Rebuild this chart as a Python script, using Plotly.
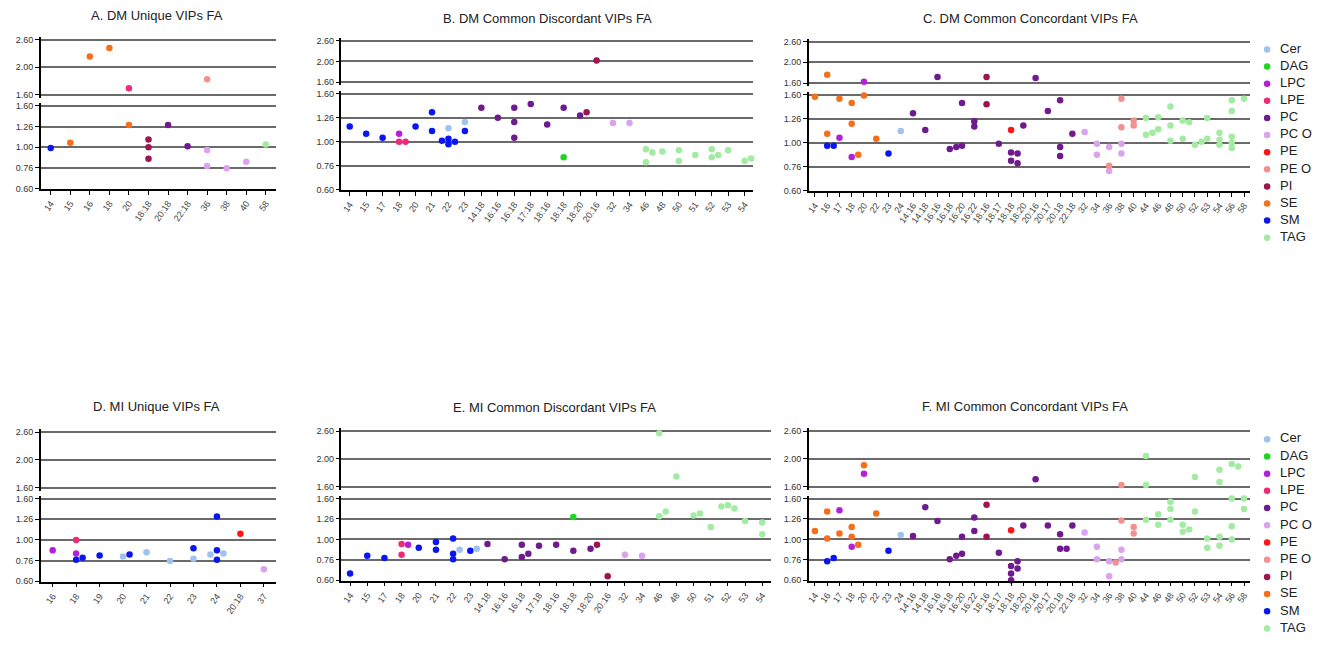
import math
import plotly.graph_objects as go

W, H = 1342, 646

CLASSES = ["Cer", "DAG", "LPC", "LPE", "PC", "PC O", "PE", "PE O", "PI", "SE", "SM", "TAG"]
COLORS = {
    "Cer": "#9ec3ef", "DAG": "#1fd61f", "LPC": "#b41fd8", "LPE": "#ee2a7b",
    "PC": "#6f1a8e", "PC O": "#dba2ee", "PE": "#ff1515", "PE O": "#f39191",
    "PI": "#9c1452", "SE": "#f56e1a", "SM": "#0a16f0", "TAG": "#a3eaa3",
}

# ---------------- A. DM Unique ----------------
A_categories = ["14", "15", "16", "18", "20", "18:18", "20:18", "22:18", "36", "38", "40", "58"]
A_cat = ["14", "15", "16", "18", "20", "20", "18:18", "18:18", "18:18", "20:18", "22:18",
         "36", "36", "36", "38", "40", "58"]
A_class = ["SM", "SE", "SE", "SE", "LPE", "SE", "PI", "PI", "PI", "PC", "PC",
           "PE O", "PC O", "PC O", "PC O", "PC O", "TAG"]
A_fa = [0.99, 1.05, 2.19, 2.35, 1.68, 1.28, 1.09, 1.00, 0.88, 1.28, 1.01,
        1.81, 0.97, 0.81, 0.79, 0.85, 1.03]

# ---------------- B. DM Common Discordant ----------------
B_categories = ["14", "15", "17", "18", "20", "21", "22", "23", "14:18", "16:16", "16:18", "17:18",
                "18:16", "18:18", "18:20", "20:16", "32", "34", "46", "48", "50", "51", "52", "53", "54"]
B_cat = ["14", "15", "17", "18", "18", "18", "20", "21", "21", "22", "22", "22", "22", "22",
         "23", "23", "14:18", "16:16", "16:18", "16:18", "16:18", "17:18", "18:16", "18:18", "18:18",
         "18:20", "18:20", "20:16", "32", "34", "46", "46", "46", "48", "50", "50", "51",
         "52", "52", "52", "53", "54", "54"]
B_class = ["SM", "SM", "SM", "LPC", "LPE", "LPE", "SM", "SM", "SM", "SM", "SM", "SM", "SM", "Cer",
           "SM", "Cer", "PC", "PC", "PC", "PC", "PC", "PC", "PC", "PC", "DAG",
           "PC", "PI", "PI", "PC O", "PC O", "TAG", "TAG", "TAG", "TAG", "TAG", "TAG", "TAG",
           "TAG", "TAG", "TAG", "TAG", "TAG", "TAG"]
B_fa = [1.16, 1.08, 1.04, 1.08, 1.00, 1.00, 1.16, 1.33, 1.11, 1.03, 1.00, 0.975, 1.01, 1.14,
        1.11, 1.21, 1.39, 1.26, 1.39, 1.21, 1.04, 1.44, 1.18, 1.39, 0.86,
        1.29, 1.33, 2.02, 1.20, 1.20, 0.93, 0.90, 0.82, 0.91, 0.92, 0.83, 0.88,
        0.86, 0.93, 0.88, 0.92, 0.83, 0.85]

# ---------------- C. DM Common Concordant ----------------
C_categories = ["14", "16", "17", "18", "20", "22", "23", "24", "14:16", "14:18", "16:16", "16:18",
                "16:20", "16:22", "18:16", "18:17", "18:18", "18:20", "20:16", "20:17", "20:18", "22:18",
                "32", "34", "36", "38", "40", "44", "46", "48", "50", "52", "53", "54", "56", "58"]
C_cat = ["14",
         "16", "16", "16", "16",
         "17", "17",
         "18", "18", "18", "18",
         "20", "20",
         "22", "23", "24", "14:16", "14:18", "16:16",
         "16:18", "16:18", "16:20", "16:20", "16:22", "16:22", "18:16", "18:16", "18:17",
         "18:18", "18:18", "18:18", "18:18", "18:18",
         "18:20", "20:16", "20:17", "20:18", "20:18", "20:18", "22:18",
         "32", "34", "34", "36", "36", "36", "38", "38", "38", "38", "40", "40",
         "44", "44", "44", "46", "46", "48", "48", "48", "50", "50", "50", "52", "52",
         "53", "53", "54", "54", "54", "56", "56", "56", "56", "56", "58", "58"]
C_class = ["SE",
           "SE", "SE", "SM", "SM",
           "SE", "LPC",
           "LPC", "SE", "SE", "SE",
           "LPC", "SE",
           "SE", "SM", "Cer", "PC", "PC", "PC",
           "PC", "PC", "PC", "PC", "PC", "PC", "PI", "PI", "PC",
           "PC", "PC", "PC", "PC", "PE",
           "PC", "PC", "PC", "PC", "PC", "PC", "PC",
           "PC O", "PC O", "PC O", "PC O", "PC O", "PE O", "PE O", "PE O", "PC O", "PC O", "PE O", "PE O",
           "TAG", "TAG", "TAG", "TAG", "TAG", "TAG", "TAG", "TAG", "TAG", "TAG", "TAG", "TAG", "TAG",
           "TAG", "TAG", "TAG", "TAG", "TAG", "TAG", "TAG", "TAG", "TAG", "TAG", "TAG", "TAG"]
C_fa = [1.56,
        1.74, 1.09, 0.97, 0.97,
        1.53, 1.05,
        0.87, 1.47, 1.20, 0.89,
        1.61, 1.58,
        1.04, 0.90, 1.12, 1.33, 1.13, 1.70,
        0.94, 0.96, 1.47, 0.97, 1.17, 1.23, 1.70, 1.45, 0.99,
        0.91, 0.90, 0.84, 0.82, 1.13,
        1.18, 1.68, 1.36, 1.51, 0.96, 0.88, 1.09,
        1.11, 0.99, 0.89, 0.76, 0.96, 0.80, 1.53, 1.16, 0.99, 0.90, 1.18, 1.24,
        1.08, 1.10, 1.27, 1.28, 1.14, 1.42, 1.18, 1.02, 1.24, 1.22, 1.04, 0.98, 1.01,
        1.27, 1.04, 1.10, 1.03, 0.98, 1.51, 1.36, 1.06, 0.95, 1.00, 1.53, 1.55]

# ---------------- D. MI Unique ----------------
D_categories = ["16", "18", "19", "20", "21", "22", "23", "24", "20:18", "37"]
D_cat = ["16", "18", "18", "18", "18", "19", "20", "20", "21", "22", "23", "23",
         "24", "24", "24", "24", "24", "20:18", "37"]
D_class = ["LPC", "LPC", "LPE", "SM", "SM", "SM", "Cer", "SM", "Cer", "Cer", "SM", "Cer",
           "SM", "SM", "SM", "Cer", "Cer", "PE", "PC O"]
D_fa = [0.89, 0.86, 1.00, 0.80, 0.82, 0.84, 0.83, 0.85, 0.87, 0.79, 0.91, 0.81,
        1.30, 0.89, 0.80, 0.86, 0.85, 1.07, 0.72]

# ---------------- E. MI Common Discordant ----------------
E_categories = list(B_categories)
E_cat = ["14", "15", "17", "18", "18", "18", "20", "21", "21", "22", "22", "22", "22",
         "23", "23", "14:18", "16:16", "16:18", "16:18", "16:18", "17:18", "18:16", "18:18", "18:18",
         "18:20", "18:20", "20:16", "32", "34", "46", "46", "46", "48", "50", "50", "51",
         "52", "52", "52", "53", "54", "54"]
E_class = ["SM", "SM", "SM", "LPE", "LPE", "LPC", "SM", "SM", "SM", "SM", "SM", "SM", "Cer",
           "SM", "Cer", "PC", "PC", "PC", "PC", "PC", "PC", "PC", "DAG", "PC",
           "PC", "PI", "PI", "PC O", "PC O", "TAG", "TAG", "TAG", "TAG", "TAG", "TAG", "TAG",
           "TAG", "TAG", "TAG", "TAG", "TAG", "TAG"]
E_fa = [0.68, 0.83, 0.81, 0.95, 0.84, 0.94, 0.91, 0.97, 0.89, 1.01, 0.80, 0.85, 0.89,
        0.88, 0.90, 0.95, 0.80, 0.94, 0.82, 0.85, 0.93, 0.94, 1.29, 0.88,
        0.90, 0.94, 0.66, 0.84, 0.83, 2.48, 1.30, 1.37, 1.73, 1.31, 1.34, 1.15,
        1.47, 1.42, 1.45, 1.23, 1.21, 1.06]

# ---------------- F. MI Common Concordant ----------------
F_categories = list(C_categories)
F_cat = ["14",
         "16", "16", "16", "16",
         "17", "17",
         "18", "18", "18", "18",
         "20", "20",
         "22", "23", "24", "14:16", "14:18", "16:16",
         "16:18", "16:18", "16:20", "16:20", "16:22", "16:22", "18:16", "18:16", "18:17",
         "18:18", "18:18", "18:18", "18:18", "18:18", "18:18",
         "18:20", "20:16", "20:17", "20:18", "20:18", "20:18", "22:18",
         "32", "34", "34", "36", "36", "36", "38", "38", "38", "38", "40", "40",
         "44", "44", "44", "46", "46", "48", "48", "48", "50", "50", "50",
         "52", "52", "53", "53", "54", "54", "54", "54", "56", "56", "56", "56", "56", "58", "58"]
F_class = ["SE",
           "SE", "SE", "SM", "SM",
           "LPC", "SE",
           "LPC", "SE", "SE", "SE",
           "SE", "LPC",
           "SE", "SM", "Cer", "PC", "PC", "PC",
           "PC", "PC", "PC", "PC", "PC", "PC", "PI", "PI", "PC",
           "PC", "PC", "PC", "PC", "PC", "PE",
           "PC", "PC", "PC", "PC", "PC", "PC", "PC",
           "PC O", "PC O", "PC O", "PC O", "PC O", "PE O", "PE O", "PE O", "PC O", "PC O", "PE O", "PE O",
           "TAG", "TAG", "TAG", "TAG", "TAG", "TAG", "TAG", "TAG", "TAG", "TAG", "TAG",
           "TAG", "TAG", "TAG", "TAG", "TAG", "TAG", "TAG", "TAG", "TAG", "TAG", "TAG", "TAG", "TAG", "TAG", "TAG"]
F_fa = [1.10,
        1.37, 1.01, 0.78, 0.81,
        1.39, 1.07,
        0.92, 1.15, 1.03, 0.94,
        1.90, 1.77,
        1.34, 0.88, 1.05, 1.04, 1.44, 1.23,
        0.80, 0.83, 0.85, 1.03, 1.28, 1.10, 1.48, 1.03, 0.86,
        0.74, 0.78, 0.72, 0.68, 0.63, 1.11,
        1.17, 1.69, 1.17, 1.06, 0.90, 0.90, 1.17,
        1.08, 0.92, 0.80, 0.78, 0.66, 0.77, 1.61, 1.24, 0.89, 0.80, 1.07, 1.15,
        2.05, 1.61, 1.25, 1.33, 1.18, 1.53, 1.41, 1.25, 1.18, 1.12, 1.09,
        1.72, 1.37, 1.01, 0.91, 1.83, 1.65, 1.03, 0.93, 1.92, 1.88, 1.59, 1.16, 1.00, 1.59, 1.41]

# tick labels of the broken y axis (log scale, steps of 2^(1/3))
LOW_TICKVALS = [2 ** (-2 / 3), 2 ** (-1 / 3), 1.0, 2 ** (1 / 3), 2 ** (2 / 3)]
LOW_TICKTEXT = ["0.60", "0.76", "1.00", "1.26", "1.60"]
UP_TICKVALS = [2 ** (2 / 3), 2.0, 2 ** (4 / 3)]
UP_TICKTEXT = ["1.60", "2.00", "2.60"]
SPLIT = 1.6

PANELS = [
    dict(title="A. DM Unique VIPs FA", cats=A_categories, pc=A_cat, pk=A_class, pv=A_fa,
         x=(39, 274), up=(38, 94), low=(105, 189), t=(155, 14)),
    dict(title="B. DM Common Discordant VIPs FA", cats=B_categories, pc=B_cat, pk=B_class, pv=B_fa,
         x=(340, 752), up=(39, 81), low=(93, 190), t=(546, 17)),
    dict(title="C. DM Common Concordant VIPs FA", cats=C_categories, pc=C_cat, pk=C_class, pv=C_fa,
         x=(808, 1250), up=(40, 82), low=(94, 191), t=(1030, 17)),
    dict(title="D. MI Unique VIPs FA", cats=D_categories, pc=D_cat, pk=D_class, pv=D_fa,
         x=(39, 274), up=(435, 491), low=(502, 586), t=(155, 409)),
    dict(title="E. MI Common Discordant VIPs FA", cats=E_categories, pc=E_cat, pk=E_class, pv=E_fa,
         x=(340, 770), up=(434, 490), low=(502, 585), t=(553, 410)),
    dict(title="F. MI Common Concordant VIPs FA", cats=F_categories, pc=F_cat, pk=F_class, pv=F_fa,
         x=(808, 1250), up=(434, 490), low=(502, 585), t=(1025, 409)),
]
LEGENDS = [dict(x=1267, y0=48, step=17.3, xaxis="x7", yaxis="y13"),
           dict(x=1267, y0=442, step=17.4, xaxis="x8", yaxis="y14")]


def fx(px):
    return px / W


def fy(py):
    return 1 - py / H


fig = go.Figure()
layout = dict(
    width=W, height=H, margin=dict(l=0, r=0, t=0, b=0),
    paper_bgcolor="white", plot_bgcolor="white",
    font=dict(family="Liberation Sans, Arial, sans-serif", color="#222"),
    annotations=[], showlegend=False, hovermode=False,
)

GRID = "#6a6a6a"
GRID_W = 1.6
PAD = 3  # px of padding so edge grid lines are drawn
for i, p in enumerate(PANELS):
    xn = f"x{i + 1}" if i else "x"
    ylow_n = f"y{2 * i + 1}" if i else "y"
    yup_n = f"y{2 * i + 2}"
    ncat = len(p["cats"])
    spacing_px = (p["x"][1] - p["x"][0]) / ncat
    px_per_unit = {"low": (p["low"][1] - p["low"][0]) / (4 / 3),
                   "up": (p["up"][1] - p["up"][0]) / (2 / 3)}
    step = 6.5 / spacing_px

    # beeswarm-like horizontal offsets for overlapping dots within a category
    placed = {}
    xs, ys, segs = [], [], []
    for c, k, v in zip(p["pc"], p["pk"], p["pv"]):
        seg = "up" if v >= SPLIT else "low"
        idx = p["cats"].index(c)
        yy = math.log2(v) * px_per_unit[seg]
        lst = placed.setdefault((idx, seg), [])
        chosen = 0.0
        for cand in [0.0, step, -step, 2 * step, -2 * step, 3 * step]:
            if all(abs(cand - o) > 0.9 * step or abs(yy - q) > 5.0 for o, q in lst):
                chosen = cand
                break
        lst.append((chosen, yy))
        xs.append(idx + chosen)
        ys.append(v)
        segs.append(seg)

    # empty traces so both segments of every panel are always drawn
    for yname in (ylow_n, yup_n):
        fig.add_trace(go.Scatter(x=[None], y=[None], mode="markers", xaxis=xn, yaxis=yname,
                                 showlegend=False, hoverinfo="skip"))

    for cls in CLASSES:
        for seg, yname in (("low", ylow_n), ("up", yup_n)):
            px_ = [x for x, kk, s in zip(xs, p["pk"], segs) if kk == cls and s == seg]
            py_ = [y for y, kk, s in zip(ys, p["pk"], segs) if kk == cls and s == seg]
            if not px_:
                continue
            fig.add_trace(go.Scatter(
                x=px_, y=py_, mode="markers", xaxis=xn, yaxis=yname,
                marker=dict(color=COLORS[cls], size=6.5, line=dict(width=0)),
                showlegend=False, cliponaxis=False, name=cls, hoverinfo="skip"))

    xkey = "xaxis" if i == 0 else f"xaxis{i + 1}"
    ylkey = "yaxis" if i == 0 else f"yaxis{2 * i + 1}"
    yukey = f"yaxis{2 * i + 2}"
    layout[xkey] = dict(
        domain=[fx(p["x"][0]), fx(p["x"][1])], anchor=ylow_n,
        range=[-0.5, ncat - 0.5], tickmode="array", tickvals=list(range(ncat)),
        ticktext=p["cats"], tickangle=-55, showgrid=False, zeroline=False,
        showline=True, linecolor="black", linewidth=1.5, ticks="outside",
        ticklen=4, tickcolor="black", tickfont=dict(size=9, color="#444"))
    common_y = dict(anchor=xn, type="log", tickmode="array",
                    showgrid=True, gridcolor=GRID, gridwidth=GRID_W, zeroline=False,
                    showline=True, linecolor="black", linewidth=1.5, ticks="outside",
                    ticklen=4, tickcolor="black", tickfont=dict(size=9, color="#333"))
    lo0, lo1 = math.log10(LOW_TICKVALS[0]), math.log10(LOW_TICKVALS[-1])
    eps_low = PAD * (lo1 - lo0) / (p["low"][1] - p["low"][0])
    layout[ylkey] = dict(
        domain=[fy(p["low"][1]), fy(p["low"][0] - PAD)],
        range=[lo0 - 0.002, lo1 + eps_low],
        tickvals=LOW_TICKVALS, ticktext=LOW_TICKTEXT, **common_y)
    up0, up1 = math.log10(UP_TICKVALS[0]), math.log10(UP_TICKVALS[-1])
    eps_up = PAD * (up1 - up0) / (p["up"][1] - p["up"][0])
    layout[yukey] = dict(
        domain=[fy(p["up"][1] + PAD), fy(p["up"][0] - PAD)],
        range=[up0 - eps_up, up1 + eps_up],
        tickvals=UP_TICKVALS, ticktext=UP_TICKTEXT, **common_y)
    layout["annotations"].append(dict(
        text=p["title"], x=fx(p["t"][0]), y=fy(p["t"][1]), xref="paper", yref="paper",
        xanchor="center", yanchor="middle", showarrow=False,
        font=dict(size=13, color="#222")))

# legends (one per row of panels): markers on hidden axes, labels as text
n = len(CLASSES)
for j, lg in enumerate(LEGENDS):
    xk = "xaxis" + lg["xaxis"][1:]
    yk = "yaxis" + lg["yaxis"][1:]
    top = lg["y0"] - lg["step"] / 2
    bottom = lg["y0"] + lg["step"] * (n - 0.5)
    layout[xk] = dict(domain=[fx(lg["x"] - 5), fx(lg["x"] + 60)], range=[-5, 60],
                      visible=False, anchor=lg["yaxis"], fixedrange=True)
    layout[yk] = dict(domain=[fy(bottom), fy(top)], range=[n - 0.5, -0.5],
                      visible=False, anchor=lg["xaxis"], fixedrange=True)
    fig.add_trace(go.Scatter(
        x=[0] * n, y=list(range(n)), mode="markers", xaxis=lg["xaxis"], yaxis=lg["yaxis"],
        marker=dict(color=[COLORS[c] for c in CLASSES], size=6.5),
        showlegend=False, hoverinfo="skip", cliponaxis=False))
    fig.add_trace(go.Scatter(
        x=[13] * n, y=list(range(n)), mode="text", xaxis=lg["xaxis"], yaxis=lg["yaxis"],
        text=CLASSES, textposition="middle right",
        textfont=dict(size=13, color="#222"), showlegend=False, hoverinfo="skip",
        cliponaxis=False))

fig.update_layout(**layout)
# remove the browser's default 8px body margin so the figure sits at the page origin
fig.write_html("out.html", config={"displayModeBar": False},
               post_script="document.body.style.margin='0px';")
